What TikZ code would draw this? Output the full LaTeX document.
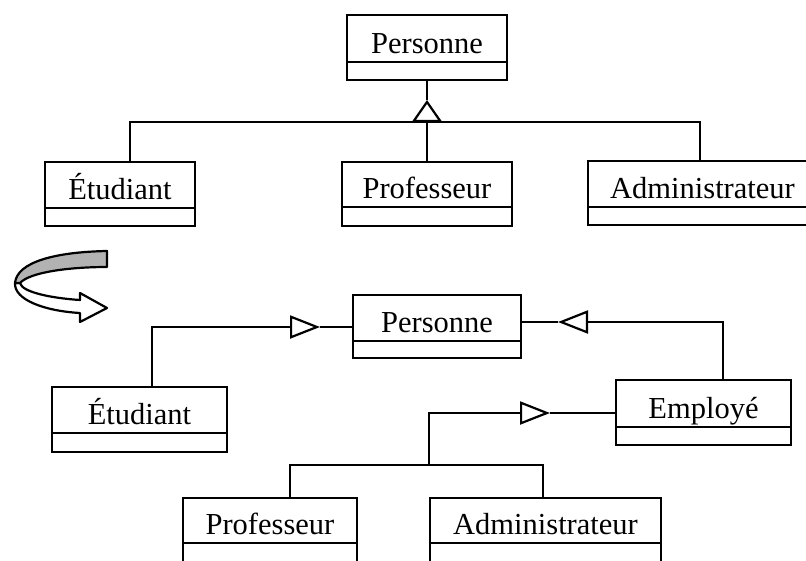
\documentclass[tikz,border=0pt]{standalone}
\usepackage{fontspec}
\setmainfont{Liberation Serif}
\usetikzlibrary{arrows.meta}

% class box: name compartment, empty attribute compartment below,
% class name set on a baseline 9pt above the divider
% #1 id, #2 x, #3 y (top left), #4 width, #5 name height, #6 attribute height, #7 name
\newcommand{\classbox}[7]{%
  \node[namepart, minimum width=#4pt, minimum height=#5pt, anchor=north west] (#1) at (#2,#3) {};
  \node[attrpart, minimum width=#4pt, minimum height=#6pt, anchor=north] (#1-attr) at (#1.south) {};
  \node[nametext, anchor=base] (#1-name) at ([yshift=9pt]#1.south) {#7};
  \draw[boxline] (#1.north west) rectangle (#1-attr.south east);
  \draw[divline] (#1.south west) -- (#1.south east);
}

\begin{document}
\begin{tikzpicture}[x=1pt, y=-1pt,
  namepart/.style={inner sep=0pt, outer sep=0pt},
  attrpart/.style={inner sep=0pt, outer sep=0pt},
  nametext/.style={inner sep=0pt, font=\fontsize{30.5}{36}\selectfont},
  boxline/.style={line width=2.2pt},
  divline/.style={line width=1.3pt},
  conn/.style={line width=2.2pt},
  genA/.style={-{Triangle[open, length=22pt, width=30pt]}},
  genB/.style={-{Triangle[open, length=30pt, width=23pt]}},
  ribbon/.style={line width=2.2pt, line join=round}
]
\useasboundingbox (0,0) rectangle (806,560);

% ---- first hierarchy: one superclass, three subclasses ----
\classbox{persT}{347}{15}{160}{47}{18}{Personne}
\classbox{etuT}{45}{162}{150}{46}{18}{Étudiant}
\classbox{profT}{342}{162}{170}{45}{19}{Professeur}
\classbox{admT}{588}{161}{229}{46}{18}{Administrateur}

\coordinate (barT) at (427,122);
\coordinate (apexT) at (427,100);
\coordinate (etuTc) at (130,162);
\coordinate (admTc) at (700,161);
\draw[conn] (etuTc) |- (barT) -| (admTc);
\draw[conn] (profT.north) -- (barT);
\draw[conn, genA] (barT) -- (apexT);
\draw[conn] (apexT) -- (persT-attr.south);

% ---- transformation arrow ----
\filldraw[ribbon, fill=white] (15,283) .. controls (14,300) and (45,311) .. (80,313)
  -- (80,322) -- (107,308) -- (80,293) -- (80,300)
  .. controls (50,298) and (22,292) .. (20,283) -- cycle;
\filldraw[ribbon, fill=gray!60] (107,251) .. controls (55,252) and (17,262) .. (15,283)
  -- (20,283) .. controls (30,272) and (70,267) .. (107,267) -- cycle;

% ---- second hierarchy: intermediate class Employé ----
\classbox{persB}{353}{295}{168}{46}{17}{Personne}
\classbox{etuB}{52}{387}{175}{46}{19}{Étudiant}
\classbox{empB}{616}{380}{175}{47}{18}{Employé}
\classbox{profB}{183}{498}{174}{45}{30}{Professeur}
\classbox{admB}{430}{498}{231}{45}{30}{Administrateur}

\coordinate (apexL) at (320,327);
\coordinate (etuBc) at (152,387);
\draw[conn, genB] (etuBc) |- (apexL);
\draw[conn] (apexL) -- (persB.west |- apexL);

\coordinate (apexR) at (558,322);
\coordinate (empBc) at (723,380);
\draw[conn, genB] (empBc) |- (apexR);
\draw[conn] (apexR) -- (persB.east |- apexR);

\coordinate (apexE) at (550,413);
\coordinate (barB) at (429,465);
\coordinate (profBc) at (290,498);
\coordinate (admBc) at (543,498);
\draw[conn, genB] (barB) |- (apexE);
\draw[conn] (apexE) -- (empB.west |- apexE);
\draw[conn] (profBc) |- (barB) -| (admBc);
\end{tikzpicture}
\end{document}
